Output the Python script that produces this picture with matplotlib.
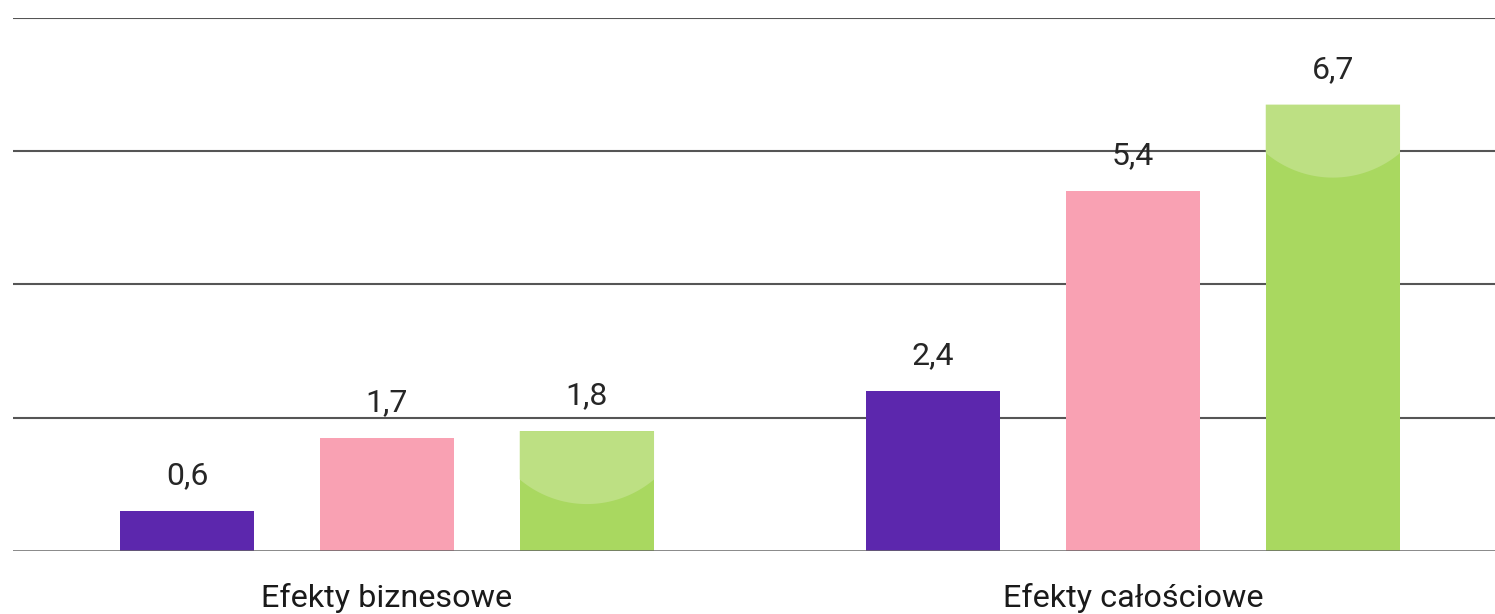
import numpy as np
import matplotlib
matplotlib.use("Agg")
import matplotlib.pyplot as plt
from matplotlib.patches import Polygon

plt.rcParams["font.family"] = ["Roboto", "DejaVu Sans"]

categories = ["Efekty biznesowe", "Efekty całościowe"]
series_a = [0.6, 2.4]
series_b = [1.7, 5.4]
series_c = [1.8, 6.7]
value_labels = [["0,6", "2,4"], ["1,7", "5,4"], ["1,8", "6,7"]]

COLORS = ["#5c27ad", "#f9a1b3", "#a9d860"]
GLOSS = "#bde083"
STEP = 0.268
WIDTH = 0.18

fig = plt.figure(figsize=(14.95, 6.14), dpi=100)
ax = fig.add_axes([13 / 1495, 63 / 614, 1 - 13 / 1495, (551 - 18) / 614])
ax.set_xlim(-0.5013, 1.4853)
ax.set_ylim(0, 8)
ax.axis("off")

for y in (2, 4, 6, 8):
    ax.axhline(y, color="#555555", lw=1.5, zorder=1)
ax.axhline(0, color="#666666", lw=1.8, zorder=4)

xs = np.arange(len(categories))
bars = []
for i, (vals, col) in enumerate(zip((series_a, series_b, series_c), COLORS)):
    b = ax.bar(xs + (i - 1) * STEP, vals, WIDTH, color=col, zorder=2)
    bars.append(b)
    for x, v, lab in zip(xs + (i - 1) * STEP, vals, value_labels[i]):
        ax.text(x, v + 0.4, lab, ha="center", va="baseline",
                fontsize=23, color="#262626")

# lighter cap on the green bars, lower edge is a circular arc (in pixels)
fig.canvas.draw()
to_disp = ax.transData
to_data = ax.transData.inverted()
R, yc = 104.0, -31.0
for rect in bars[2]:
    x0, top = rect.get_x(), rect.get_height()
    x1 = x0 + rect.get_width()
    (px0, ptop), (px1, _) = to_disp.transform([(x0, top), (x1, top)])
    cx = (px0 + px1) / 2
    dx = np.linspace(px0, px1, 80) - cx
    depth = yc + np.sqrt(np.clip(R ** 2 - dx ** 2, 0, None))
    arc = np.column_stack([cx + dx, ptop - depth])
    pts = np.vstack([[(px0, ptop)], arc, [(px1, ptop)]])
    ax.add_patch(Polygon(to_data.transform(pts), closed=True,
                         facecolor=GLOSS, edgecolor="none", zorder=3))

for x, name in zip(xs, categories):
    ax.text(x, -0.84, name, ha="center", va="baseline",
            fontsize=23.3, color="#1a1a1a")

fig.savefig("out.png", dpi=100)
